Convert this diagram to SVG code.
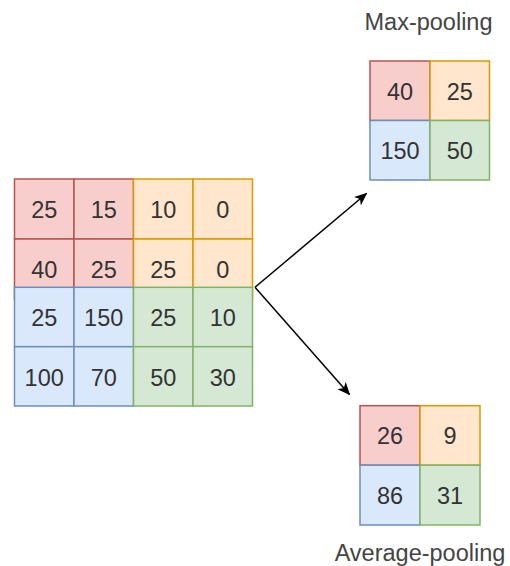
<svg xmlns="http://www.w3.org/2000/svg" width="510" height="566" viewBox="0 0 510 566">
<style>
.r{fill:#f8cecc;stroke:#b85450;stroke-width:1.5}
.o{fill:#ffe6cc;stroke:#d79b00;stroke-width:1.5}
.b{fill:#dae8fc;stroke:#6c8ebf;stroke-width:1.5}
.g{fill:#d5e8d4;stroke:#82b366;stroke-width:1.5}
text{font-family:"Liberation Sans",Arial,sans-serif;fill:#333333;text-anchor:middle}
.n{font-size:23.5px}
.l{font-size:23.5px;fill:#444444}
.e{stroke:#000000;stroke-width:1.5;fill:none}
</style>
<defs>
<marker id="ah" markerWidth="14" markerHeight="12" refX="12" refY="5.5" orient="auto" markerUnits="userSpaceOnUse">
<path d="M0,0 L13,5.5 L0,11 L3.5,5.5 Z" fill="#000000"/>
</marker>
</defs>
<g id="input">
<g id="c11"><rect class="r" x="14.5" y="179" width="59.5" height="60"/><text class="n" x="44.2" y="218">25</text></g>
<g id="c12"><rect class="r" x="74" y="179" width="59.5" height="60"/><text class="n" x="103.7" y="218">15</text></g>
<g id="c21"><rect class="r" x="14.5" y="239" width="59.5" height="60"/><text class="n" x="44.2" y="278">40</text></g>
<g id="c22"><rect class="r" x="74" y="239" width="59.5" height="60"/><text class="n" x="103.7" y="278">25</text></g>
<g id="c13"><rect class="o" x="133.5" y="179" width="59.5" height="60"/><text class="n" x="163.2" y="218">10</text></g>
<g id="c14"><rect class="o" x="193" y="179" width="59.5" height="60"/><text class="n" x="222.7" y="218">0</text></g>
<g id="c23"><rect class="o" x="133.5" y="239" width="59.5" height="60"/><text class="n" x="163.2" y="278">25</text></g>
<g id="c24"><rect class="o" x="193" y="239" width="59.5" height="60"/><text class="n" x="222.7" y="278">0</text></g>
<g id="c31"><rect class="b" x="14.5" y="287.3" width="59.5" height="59.4"/><text class="n" x="44.2" y="326">25</text></g>
<g id="c32"><rect class="b" x="74" y="287.3" width="59.5" height="59.4"/><text class="n" x="103.7" y="326">150</text></g>
<g id="c41"><rect class="b" x="14.5" y="346.7" width="59.5" height="59.3"/><text class="n" x="44.2" y="385.5">100</text></g>
<g id="c42"><rect class="b" x="74" y="346.7" width="59.5" height="59.3"/><text class="n" x="103.7" y="385.5">70</text></g>
<g id="c33"><rect class="g" x="133.5" y="287.3" width="59.5" height="59.4"/><text class="n" x="163.2" y="326">25</text></g>
<g id="c34"><rect class="g" x="193" y="287.3" width="59.5" height="59.4"/><text class="n" x="222.7" y="326">10</text></g>
<g id="c43"><rect class="g" x="133.5" y="346.7" width="59.5" height="59.3"/><text class="n" x="163.2" y="385.5">50</text></g>
<g id="c44"><rect class="g" x="193" y="346.7" width="59.5" height="59.3"/><text class="n" x="222.7" y="385.5">30</text></g>
</g>
<g id="maxpool">
<text class="l" x="428.5" y="30">Max-pooling</text>
<g id="m11"><rect class="r" x="370" y="61" width="60" height="59.5"/><text class="n" x="400" y="99.5">40</text></g>
<g id="m12"><rect class="o" x="430" y="61" width="59.5" height="59.5"/><text class="n" x="459.7" y="99.5">25</text></g>
<g id="m21"><rect class="b" x="370" y="120.5" width="60" height="59.5"/><text class="n" x="400" y="159">150</text></g>
<g id="m22"><rect class="g" x="430" y="120.5" width="59.5" height="59.5"/><text class="n" x="459.7" y="159">50</text></g>
</g>
<g id="avgpool">
<g id="a11"><rect class="r" x="360" y="405.7" width="60" height="59.5"/><text class="n" x="390" y="444">26</text></g>
<g id="a12"><rect class="o" x="420" y="405.7" width="60" height="59.5"/><text class="n" x="450" y="444">9</text></g>
<g id="a21"><rect class="b" x="360" y="465.2" width="60" height="59.8"/><text class="n" x="390" y="504">86</text></g>
<g id="a22"><rect class="g" x="420" y="465.2" width="60" height="59.8"/><text class="n" x="450" y="504">31</text></g>
<text class="l" x="420" y="561">Average-pooling</text>
</g>
<g id="connectors">
<line class="e" x1="255" y1="287.3" x2="366.5" y2="193.5" marker-end="url(#ah)"/>
<line class="e" x1="255" y1="287.3" x2="349.5" y2="394.5" marker-end="url(#ah)"/>
</g>
</svg>
